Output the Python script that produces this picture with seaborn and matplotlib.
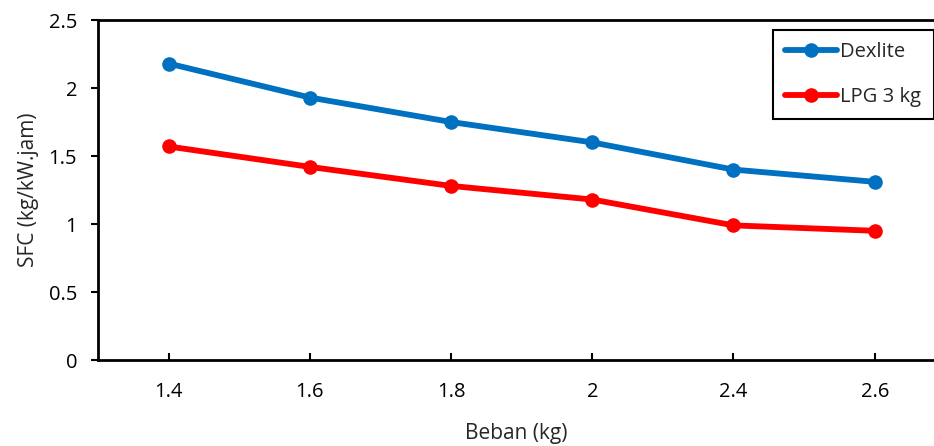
import matplotlib
matplotlib.use("Agg")
import matplotlib.pyplot as plt
import seaborn as sns
import pandas as pd
from matplotlib.lines import Line2D

beban = ["1.4", "1.6", "1.8", "2", "2.4", "2.6"]
dexlite = [2.18, 1.93, 1.75, 1.60, 1.40, 1.31]
lpg = [1.57, 1.42, 1.28, 1.18, 0.99, 0.95]
series_names = ["Dexlite", "LPG 3 kg"]
colors = ["#0070C0", "#FF0000"]
yticks = [0, 0.5, 1, 1.5, 2, 2.5]
ytick_labels = ["0", "0.5", "1", "1.5", "2", "2.5"]

sns.set_style("white")
plt.rcParams['font.family'] = ['Open Sans', 'DejaVu Sans']

pos = list(range(len(beban)))
df = pd.DataFrame({
    "pos": pos * 2,
    "sfc": dexlite + lpg,
    "seri": [series_names[0]] * len(beban) + [series_names[1]] * len(beban),
})

fig = plt.figure(figsize=(9.34, 4.46), dpi=100)
ax = fig.add_axes([98/934, 1 - 360/446, 1 - 98/934, (360 - 20)/446])

sns.lineplot(data=df, x="pos", y="sfc", hue="seri", palette=colors,
             marker="o", markersize=10.5, linewidth=4.2, markeredgewidth=0,
             ax=ax, legend=False)

ax.set_xlim(-0.5, 5.42)
ax.set_ylim(0, 2.5)
ax.set_xticks(pos)
ax.set_xticklabels(beban)
ax.set_yticks(yticks)
ax.set_yticklabels(ytick_labels)

for s in ["left", "bottom", "top"]:
    ax.spines[s].set_visible(True)
    ax.spines[s].set_color("black")
    ax.spines[s].set_linewidth(2)
ax.spines["right"].set_visible(False)

ax.tick_params(axis="x", direction="in", length=5, width=1.5, colors="black",
               labelsize=14.5, pad=16, bottom=True)
ax.tick_params(axis="y", direction="out", length=5, width=1.5, colors="black",
               labelsize=14.5, pad=10, left=True)

ax.set_xlabel("Beban (kg)", fontsize=15, labelpad=15)
ax.set_ylabel("SFC (kg/kW.jam)", fontsize=15, labelpad=7)

handles = [Line2D([0], [0], color=c, lw=4.2, marker="o", markersize=10.5,
                  markeredgewidth=0) for c in colors]
leg = ax.legend(handles, series_names, loc="upper left",
                bbox_to_anchor=((773 - 98) / (934 - 98), 1 - 10 / 340),
                fontsize=14.5, frameon=True,
                fancybox=False, edgecolor="black", framealpha=1,
                handlelength=2.6, handletextpad=0.15, labelspacing=1.25,
                borderpad=0.6, borderaxespad=0)
leg.get_frame().set_linewidth(1.5)

fig.savefig("out.png", dpi=100)
